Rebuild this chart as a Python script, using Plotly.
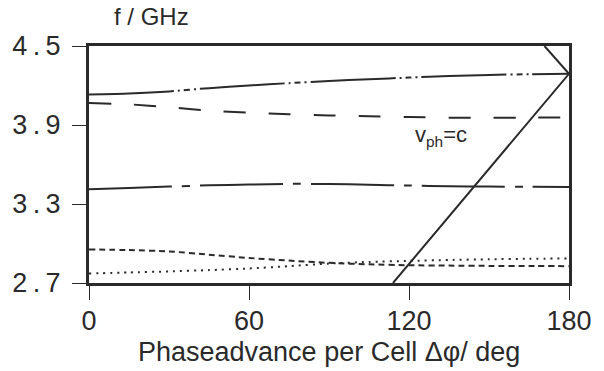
import plotly.graph_objects as go

# Phase advance (deg)
phi = [0, 15, 30, 45, 60, 75, 90, 105, 120, 135, 150, 165, 180]

# Passband frequencies (GHz)
mode_a = [4.132, 4.140, 4.155, 4.180, 4.200, 4.218, 4.234, 4.248, 4.260, 4.272, 4.280, 4.286, 4.289]
mode_b = [4.067, 4.057, 4.035, 4.010, 3.993, 3.982, 3.973, 3.966, 3.961, 3.956, 3.955, 3.956, 3.957]
mode_c = [3.412, 3.422, 3.432, 3.442, 3.448, 3.453, 3.452, 3.446, 3.440, 3.435, 3.432, 3.431, 3.430]
mode_d = [2.955, 2.950, 2.940, 2.915, 2.890, 2.870, 2.853, 2.842, 2.835, 2.832, 2.830, 2.829, 2.828]
mode_e = [2.772, 2.780, 2.788, 2.798, 2.810, 2.828, 2.848, 2.860, 2.868, 2.875, 2.880, 2.884, 2.886]

# Light line v_ph = c (folded at 180 deg)
light_phi = [114, 180, 170.8]
light_f = [2.7, 4.289, 4.5]

x_ticks = [0, 60, 120, 180]
x_ticktext = ["0", "60", "120", "180"]
y_ticks = [2.7, 3.3, 3.9, 4.5]
y_ticktext = ["2\u2009.\u20097", "3\u2009.\u20093", "3\u2009.\u20099", "4\u2009.\u20095"]

ink = "#2a2a2a"
FONT = "Liberation Sans"

fig = go.Figure()
styles = [
    (mode_a, "85px,4px,2px,4px,6px,4px,2px,4px"),
    (mode_b, "22px,23px"),
    (mode_c, "83px,10px,8px,10px"),
    (mode_d, "6px,4px"),
    (mode_e, "2px,5px"),
]
for ys, dash in styles:
    fig.add_trace(go.Scatter(x=phi, y=ys, mode="lines",
                             line=dict(color=ink, width=2, dash=dash, shape="spline", smoothing=0.6),
                             showlegend=False, hoverinfo="skip"))
fig.add_trace(go.Scatter(x=light_phi, y=light_f, mode="lines",
                         line=dict(color=ink, width=2), showlegend=False, hoverinfo="skip"))

fig.add_annotation(x=132, y=3.82, xref="x", yref="y", text="v<sub>ph</sub>=c",
                   xanchor="center", yanchor="middle",
                   showarrow=False, font=dict(family=FONT, size=22, color=ink))
fig.add_annotation(x=0.13, y=1.0, xref="paper", yref="paper", yshift=30, text="f / GHz",
                   xanchor="center", yanchor="middle",
                   showarrow=False, font=dict(family=FONT, size=24, color=ink))
fig.add_annotation(x=0.5, y=0.0, xref="paper", yref="paper", yshift=-69,
                   xanchor="center", yanchor="middle",
                   text="Phaseadvance per Cell Δφ/ deg",
                   showarrow=False, font=dict(family=FONT, size=27, color=ink))

fig.update_layout(
    width=604, height=371,
    margin=dict(l=89, r=24, t=46, b=88),
    paper_bgcolor="white", plot_bgcolor="white",
    xaxis=dict(range=[0, 180], tickvals=x_ticks, ticktext=x_ticktext,
               showline=True, mirror=True, linewidth=3, linecolor=ink,
               ticks="outside", ticklen=14, tickwidth=1, tickcolor=ink,
               showgrid=False, zeroline=False, ticklabelstandoff=-2,
               tickfont=dict(family=FONT, size=27, color=ink)),
    yaxis=dict(range=[2.7, 4.5], tickvals=y_ticks, ticktext=y_ticktext,
               showline=True, mirror=True, linewidth=3, linecolor=ink,
               ticks="outside", ticklen=14, tickwidth=1, tickcolor=ink,
               showgrid=False, zeroline=False, ticklabelstandoff=6,
               tickfont=dict(family=FONT, size=27, color=ink)),
)

fig.write_html("out.html")
